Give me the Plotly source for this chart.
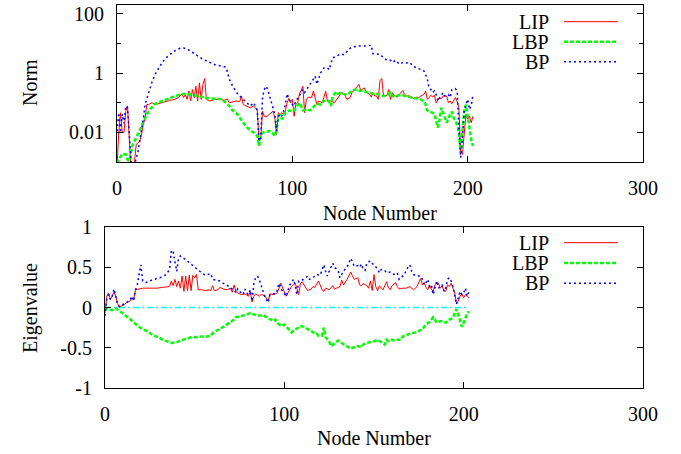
import plotly.graph_objects as go

# ---------------- data ----------------
# Top panel: Norm (log scale)
lip_norm_nodes = [0,1,2,3,4,5,6,7,8,9,10,11,13,14,15,16,17,18,20,22,24,27,30,33,35,37,38,39,40,41,42,43,44,45,46,47,48,49,50,51,53,56,59,61,63,64,66,68,70,71,72,74,76,78,80,81,82,83,84,85,87,89,90,91,92,93,94,95,96,97,98,99,100,101,102,103,104,105,106,107,108,109,111,112,114,115,117,118,119,120,122,124,126,128,130,131,133,134,135,137,138,139,141,142,144,145,146,147,148,149,150,151,152,154,155,156,157,158,160,161,163,164,165,167,169,171,172,174,175,176,177,178,179,180,181,182,184,185,186,188,189,190,191,193,194,195,196,197,198,199,200,201,202,203]
lip_norm = [0.0007,0.01,0.046,0.01,0.01,0.05,0.078,0.0032,0.0005,0.0005,0.0011,0.004,0.005,0.0085,0.019,0.028,0.087,0.087,0.1,0.087,0.095,0.105,0.12,0.13,0.15,0.2,0.15,0.19,0.13,0.25,0.115,0.28,0.15,0.36,0.115,0.47,0.13,0.42,0.66,0.13,0.115,0.13,0.13,0.12,0.135,0.1,0.105,0.115,0.11,0.17,0.087,0.078,0.068,0.078,0.056,0.0051,0.0058,0.052,0.035,0.033,0.041,0.052,0.031,0.0085,0.046,0.041,0.046,0.041,0.052,0.1,0.14,0.1,0.13,0.035,0.087,0.1,0.19,0.28,0.36,0.046,0.13,0.155,0.15,0.25,0.087,0.115,0.1,0.15,0.25,0.115,0.115,0.1,0.15,0.22,0.19,0.13,0.15,0.22,0.26,0.34,0.42,0.26,0.32,0.23,0.2,0.155,0.22,0.17,0.17,0.13,0.56,0.66,0.17,0.18,0.28,0.13,0.22,0.18,0.155,0.19,0.26,0.19,0.17,0.17,0.14,0.155,0.15,0.18,0.19,0.25,0.13,0.15,0.18,0.155,0.18,0.1,0.15,0.135,0.17,0.17,0.1,0.115,0.093,0.15,0.11,0.068,0.0023,0.0018,0.011,0.04,0.028,0.035,0.021,0.035]

lbp_norm_nodes = [0,1,2,3,5,6,7,8,9,11,13,15,17,19,21,24,27,30,33,36,39,42,46,50,53,56,59,61,64,66,68,70,72,74,76,78,80,81,82,83,85,87,89,90,91,92,93,94,95,96,98,100,101,102,104,105,106,108,110,112,114,116,118,120,121,122,123,125,126,128,130,132,134,136,138,140,142,144,146,148,150,152,154,156,157,159,161,163,165,167,169,171,173,175,176,177,179,181,182,183,184,185,186,187,188,189,190,191,192,194,195,196,197,198,199,200,201,202,203]
lbp_norm = [0.0009,0.0012,0.0014,0.0019,0.0018,0.0012,0.0011,0.0023,0.004,0.0066,0.0126,0.021,0.041,0.06,0.087,0.105,0.123,0.15,0.166,0.19,0.2,0.19,0.166,0.15,0.14,0.135,0.135,0.115,0.078,0.055,0.046,0.031,0.021,0.015,0.0117,0.0098,0.0076,0.0035,0.0076,0.0098,0.0105,0.011,0.0091,0.0076,0.0126,0.031,0.041,0.028,0.033,0.046,0.055,0.052,0.055,0.068,0.1,0.078,0.055,0.06,0.055,0.071,0.093,0.087,0.115,0.12,0.11,0.078,0.166,0.23,0.2,0.22,0.19,0.2,0.26,0.28,0.25,0.26,0.23,0.22,0.2,0.2,0.18,0.166,0.18,0.22,0.166,0.166,0.18,0.18,0.166,0.155,0.15,0.14,0.13,0.115,0.087,0.055,0.05,0.043,0.025,0.0145,0.028,0.068,0.046,0.031,0.021,0.028,0.041,0.05,0.031,0.0186,0.0098,0.002,0.0085,0.052,0.087,0.031,0.011,0.0058,0.0035]

bp_norm_nodes = [0,1,2,3,4,5,6,7,8,9,10,12,14,15,16,18,20,22,24,26,28,30,32,34,36,38,40,42,44,46,48,50,52,54,56,58,60,62,63,64,66,68,70,72,74,76,78,80,81,82,83,84,85,86,87,88,89,90,91,92,93,94,95,96,97,98,99,101,102,104,105,106,107,108,110,112,113,114,115,116,118,120,121,122,123,125,127,130,132,134,135,138,142,145,146,148,150,152,154,156,157,159,161,163,165,167,169,171,173,175,176,177,178,179,180,181,182,183,184,186,187,189,190,191,193,194,195,196,197,198,199,200,201,202,203]
bp_norm = [0.011,0.046,0.0098,0.041,0.02,0.078,0.068,0.0066,0.0011,0.0006,0.0008,0.0023,0.011,0.028,0.087,0.22,0.51,0.98,1.6,2.4,3.3,4.3,5.2,6.2,6.9,7.1,6.6,5.5,4.5,3.7,3.2,2.8,2.4,2.2,1.9,1.8,1.7,1.6,1.1,0.63,0.36,0.23,0.17,0.13,0.1,0.078,0.1,0.056,0.0051,0.0066,0.15,0.28,0.36,0.28,0.17,0.1,0.06,0.041,0.011,0.035,0.041,0.035,0.052,0.087,0.2,0.15,0.1,0.078,0.115,0.17,0.22,0.28,0.22,0.28,0.42,0.62,0.79,0.42,0.7,1.0,1.5,1.5,1.3,2.2,3.3,3.7,4.3,4.3,6.3,7.6,7.8,8.3,8.3,8.7,4.5,4.3,4.3,3.3,2.7,2.7,2.3,2.7,2.0,2.3,2.2,2.3,1.7,1.5,1.3,1.2,0.9,0.62,0.32,0.28,0.22,0.25,0.19,0.115,0.15,0.22,0.17,0.19,0.15,0.28,0.3,0.25,0.0145,0.0014,0.0066,0.052,0.087,0.13,0.06,0.079,0.18]

# Bottom panel: Eigenvalue
lip_eig_nodes = [0,1,2,3,4,5,6,7,8,10,12,14,15,16,17,19,21,25,29,32,36,37,38,39,40,41,42,43,44,45,46,47,48,49,50,51,52,54,56,58,59,60,61,63,64,66,68,70,71,72,73,74,76,78,80,81,82,83,84,86,87,89,90,91,92,94,95,96,98,99,100,101,102,103,104,105,106,107,108,109,110,111,112,113,115,116,117,118,119,120,121,122,123,125,126,127,128,130,131,132,133,135,136,137,138,139,141,142,143,144,146,147,148,149,150,151,152,153,155,156,157,158,159,160,162,163,164,166,168,170,171,172,173,174,176,177,178,179,180,181,182,183,184,185,186,187,188,189,190,191,192,193,194,195,196,197,198,199,200,201,202,203]
lip_eig = [-0.07,0.14,0.18,0.10,0.14,0.19,0.14,0.05,0.01,0.025,0.06,0.08,0.12,0.10,0.22,0.23,0.24,0.24,0.24,0.25,0.26,0.33,0.27,0.35,0.26,0.33,0.24,0.39,0.20,0.39,0.21,0.40,0.21,0.40,0.37,0.41,0.22,0.22,0.21,0.22,0.21,0.27,0.21,0.22,0.25,0.23,0.22,0.24,0.19,0.28,0.20,0.18,0.16,0.17,0.14,0.20,0.07,0.14,0.17,0.14,0.16,0.15,0.12,0.08,0.17,0.16,0.17,0.18,0.30,0.24,0.20,0.14,0.18,0.22,0.26,0.28,0.30,0.24,0.16,0.30,0.32,0.28,0.24,0.21,0.23,0.26,0.25,0.30,0.33,0.28,0.22,0.20,0.24,0.22,0.25,0.27,0.23,0.25,0.26,0.34,0.28,0.35,0.39,0.44,0.39,0.35,0.37,0.28,0.27,0.30,0.27,0.24,0.33,0.21,0.41,0.26,0.21,0.27,0.22,0.28,0.32,0.25,0.22,0.27,0.31,0.26,0.23,0.24,0.24,0.26,0.24,0.22,0.24,0.26,0.36,0.28,0.31,0.25,0.22,0.28,0.23,0.20,0.28,0.31,0.30,0.24,0.27,0.21,0.20,0.28,0.26,0.30,0.24,0.18,0.05,0.08,0.14,0.17,0.12,0.16,0.14,0.12]

lbp_eig_nodes = [0,1,3,5,6,7,9,11,13,16,19,21,24,27,30,32,35,37,40,43,45,48,51,54,57,59,60,62,64,66,68,70,72,73,75,77,79,81,83,85,87,88,90,92,94,95,97,99,100,102,104,105,107,109,111,112,113,115,116,118,119,121,122,123,125,126,127,129,130,131,133,135,137,138,140,141,143,144,146,148,150,152,153,154,156,157,158,160,161,163,165,166,167,169,171,173,175,177,178,179,181,183,184,185,187,188,190,191,192,194,195,196,197,198,199,200,201,202,203]
lbp_eig = [0.01,-0.02,-0.03,-0.03,-0.01,-0.03,-0.06,-0.09,-0.13,-0.19,-0.24,-0.27,-0.30,-0.35,-0.37,-0.40,-0.43,-0.44,-0.43,-0.40,-0.39,-0.37,-0.37,-0.36,-0.36,-0.35,-0.32,-0.29,-0.27,-0.24,-0.21,-0.18,-0.15,-0.12,-0.11,-0.10,-0.09,-0.07,-0.09,-0.10,-0.10,-0.09,-0.12,-0.15,-0.17,-0.15,-0.21,-0.23,-0.21,-0.26,-0.31,-0.29,-0.26,-0.23,-0.24,-0.26,-0.27,-0.29,-0.31,-0.32,-0.35,-0.35,-0.25,-0.37,-0.42,-0.48,-0.46,-0.43,-0.41,-0.43,-0.46,-0.48,-0.51,-0.50,-0.49,-0.48,-0.49,-0.46,-0.44,-0.43,-0.42,-0.40,-0.41,-0.43,-0.46,-0.40,-0.42,-0.40,-0.41,-0.40,-0.40,-0.36,-0.35,-0.33,-0.32,-0.31,-0.29,-0.27,-0.24,-0.21,-0.18,-0.12,-0.15,-0.19,-0.17,-0.17,-0.19,-0.16,-0.15,-0.13,-0.07,-0.02,-0.09,-0.17,-0.24,-0.19,-0.13,-0.07,-0.05]

bp_eig_nodes = [0,1,2,3,4,5,6,7,8,10,12,14,15,16,17,18,19,20,21,23,26,29,32,34,36,37,38,39,40,41,42,44,46,48,50,52,54,56,58,59,60,62,64,66,68,70,72,73,74,75,77,78,79,80,81,82,83,84,85,86,87,88,89,90,91,92,93,95,96,97,98,99,101,102,103,104,105,106,107,108,110,111,113,114,116,118,120,121,122,123,124,125,126,127,128,130,131,133,135,136,137,138,139,141,142,143,144,145,146,148,149,151,152,153,154,156,157,159,161,163,164,166,167,168,169,170,171,172,174,176,177,178,179,180,181,182,183,184,185,186,187,188,189,190,191,192,193,194,195,196,197,198,199,200,201,202,203]
bp_eig = [-0.1,0.12,0.16,0.10,0.14,0.23,0.14,0.04,0.01,0.04,0.07,0.09,0.14,0.08,0.22,0.28,0.41,0.53,0.33,0.31,0.34,0.36,0.38,0.41,0.47,0.71,0.70,0.57,0.45,0.61,0.64,0.61,0.58,0.54,0.50,0.46,0.43,0.40,0.41,0.42,0.35,0.34,0.33,0.30,0.28,0.24,0.22,0.18,0.23,0.20,0.16,0.23,0.18,0.16,0.22,0.08,0.30,0.37,0.39,0.35,0.28,0.20,0.14,0.10,0.06,0.16,0.17,0.17,0.21,0.30,0.24,0.20,0.14,0.21,0.28,0.30,0.35,0.28,0.16,0.33,0.35,0.35,0.39,0.35,0.37,0.41,0.40,0.47,0.53,0.45,0.39,0.45,0.50,0.55,0.50,0.46,0.37,0.45,0.51,0.55,0.61,0.57,0.51,0.52,0.50,0.54,0.47,0.46,0.55,0.58,0.55,0.51,0.48,0.43,0.47,0.46,0.43,0.44,0.41,0.43,0.35,0.39,0.41,0.47,0.50,0.53,0.45,0.41,0.39,0.39,0.35,0.28,0.31,0.35,0.26,0.28,0.16,0.26,0.33,0.24,0.27,0.28,0.20,0.24,0.35,0.37,0.33,0.26,0.14,0.04,0.12,0.20,0.16,0.18,0.24,0.14,0.20]

zero_nodes = [0, 203]
zero_vals = [0, 0]

series_names = ["LIP", "LBP", "BP"]
x_ticks = [0, 100, 200, 300]
norm_ticks = [0.01, 1, 100]
norm_tick_text = ["0.01", "1", "100"]
norm_minor_ticks = [0.1, 10]
eig_ticks = [-1, -0.5, 0, 0.5, 1]
eig_tick_text = ["-1", "-0.5", "0", "0.5", "1"]

# ---------------- styling ----------------
W, H = 681, 454
FONT = "Times New Roman, Liberation Serif, Nimbus Roman, DejaVu Serif, serif"
FS = 20
styles = {
    "LIP": dict(color="#ff0000", width=1, dash="solid"),
    "LBP": dict(color="#00ff00", width=2.5, dash="4px,2px"),
    "BP": dict(color="#0000ff", width=1.5, dash="2px,3px"),
}

def fx(p):
    return p / W

def fy(p):
    return 1 - p / H

fig = go.Figure()

fig.add_trace(go.Scatter(x=zero_nodes, y=zero_vals, mode="lines",
                         line=dict(color="#00ffff", width=1.3, dash="6px,3px,2px,3px"),
                         xaxis="x2", yaxis="y2", showlegend=False))

top = [(lip_norm_nodes, lip_norm), (lbp_norm_nodes, lbp_norm), (bp_norm_nodes, bp_norm)]
bot = [(lip_eig_nodes, lip_eig), (lbp_eig_nodes, lbp_eig), (bp_eig_nodes, bp_eig)]

for name, (xs, ys) in zip(series_names, top):
    fig.add_trace(go.Scatter(x=xs, y=ys, mode="lines", name=name, line=styles[name],
                             xaxis="x", yaxis="y", showlegend=False))
for name, (xs, ys) in zip(series_names, bot):
    fig.add_trace(go.Scatter(x=xs, y=ys, mode="lines", name=name, line=styles[name],
                             xaxis="x2", yaxis="y2", showlegend=False))

axis_common = dict(showline=True, linecolor="black", linewidth=1, mirror="allticks",
                   ticks="inside", ticklen=6, tickcolor="black", showgrid=False,
                   zeroline=False, automargin=False,
                   tickfont=dict(family=FONT, size=FS, color="black"),
                   ticklabelstandoff=8)

fig.update_layout(
    template="none",
    font=dict(family=FONT, size=FS, color="black"),
    width=W, height=H, autosize=False,
    paper_bgcolor="white", plot_bgcolor="white",
    margin=dict(l=0, r=0, t=0, b=0, pad=0),
    xaxis=dict(domain=[fx(117), fx(643)], range=[0, 300], tickvals=x_ticks,
               anchor="y", **axis_common),
    yaxis=dict(domain=[fy(162), fy(5)], type="log", range=[-3, 2.301],
               tickvals=norm_ticks, ticktext=norm_tick_text, anchor="x",
               minor=dict(tickvals=norm_minor_ticks, ticks="inside", ticklen=4,
                          tickcolor="black", showgrid=False),
               **axis_common),
    xaxis2=dict(domain=[fx(105), fx(643)], range=[0, 300], tickvals=x_ticks,
                anchor="y2", **axis_common),
    yaxis2=dict(domain=[fy(388), fy(227)], range=[-1, 1], tickvals=eig_ticks,
                ticktext=eig_tick_text, anchor="x2", **axis_common),
    showlegend=False,
)

ann_font = dict(family=FONT, size=FS, color="black")
annotations = [
    dict(text="Norm", x=fx(30), y=fy(83), textangle=-90),
    dict(text="Eigenvalue", x=fx(30), y=fy(308), textangle=-90),
    dict(text="Node Number", x=fx(380), y=fy(213)),
    dict(text="Node Number", x=fx(374), y=fy(438)),
]
shapes = []
for rows in ([21.7, 41.7, 61.7], [242.7, 263.0, 283.3]):
    for name, ry in zip(series_names, rows):
        annotations.append(dict(text=name, x=fx(551), y=fy(ry), xanchor="right"))
        st = styles[name]
        shapes.append(dict(type="line", xref="paper", yref="paper",
                           x0=fx(564), x1=fx(618), y0=fy(ry), y1=fy(ry),
                           line=dict(color=st["color"], width=st["width"], dash=st["dash"])))
for a in annotations:
    a.setdefault("xanchor", "center")
    a.update(xref="paper", yref="paper", yanchor="middle", showarrow=False, font=ann_font)

fig.update_layout(annotations=annotations, shapes=shapes)
# remove the browser's default 8px page margin so the figure fills the window
fig.write_html("out.html", config={"displayModeBar": False, "staticPlot": True},
               post_script="document.body.style.margin='0';")
